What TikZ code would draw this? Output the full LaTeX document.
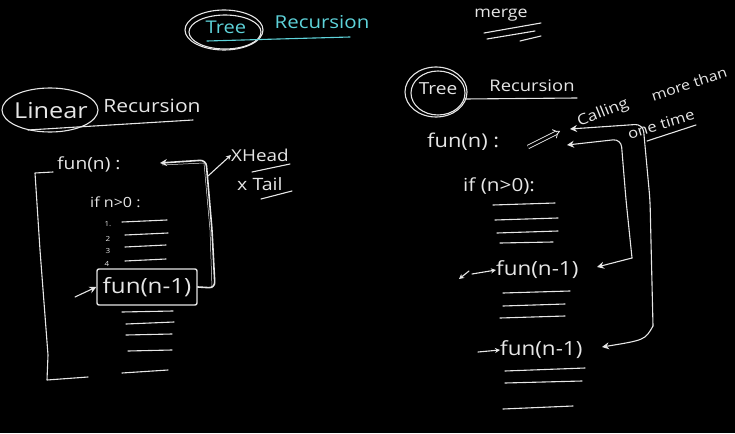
\documentclass[tikz,border=0pt]{standalone}
\usepackage{fontspec}
\setmainfont[FakeStretch=1.15]{Open Sans}
\usetikzlibrary{arrows.meta,shapes.geometric}
\definecolor{chalk}{HTML}{E6E6E6}
\definecolor{cyanchalk}{HTML}{5ED3DA}
\newcommand{\fs}[1]{\fontsize{#1}{#1}\selectfont}
\begin{document}
\begin{tikzpicture}[x=1pt,y=-1pt,
  chalkline/.style={draw=chalk,line width=1.1pt,line cap=round,line join=round},
  cyanline/.style={draw=cyanchalk,line width=1.1pt,line cap=round},
  txt/.style={text=chalk,inner sep=0pt,font=\fs{16}},
  ctxt/.style={text=cyanchalk,inner sep=0pt,font=\fs{17.5}},
  small/.style={text=chalk,inner sep=0pt,font=\fs{7}},
  tip/.style={-{Stealth[length=7pt,width=7pt]}},
  smalltip/.style={-{Stealth[length=5pt,width=5pt]}}
]
\fill[black] (0,0) rectangle (735,433);
\useasboundingbox (0,0) rectangle (735,433);

% ---------- top title ----------
\node[ctxt] (ttree) at (226,27) {Tree};
\node[ctxt,font=\fs{17.8}] (trec) at (322,22) {Recursion};
\draw[chalkline] (224,30) ellipse [x radius=39,y radius=20];
\draw[chalkline] (225,32) ellipse [x radius=36,y radius=17];
\draw[cyanline] (207,41) -- (350,37);
\node[txt,font=\fs{15.5}] (merge) at (501,15) {merge};
\draw[chalkline] (484,33) -- (541,23);
\draw[chalkline] (487,39) -- (535,31);
\draw[chalkline] (520,41) -- (541,36);

% ---------- left: linear recursion ----------
\node[txt,font=\fs{22}] (lin) at (51,111) {Linear};
\draw[chalkline] (50,110) ellipse [x radius=48,y radius=22];
\node[txt,font=\fs{18.3}] (lrec) at (152,106) {Recursion};
\draw[chalkline] (28,130) -- (193,120);

\node[txt,anchor=west,font=\fs{16.7}] (lfun) at (57,164) {fun(n) :};
\node[txt,anchor=west,font=\fs{14}] (lif) at (90,202) {if n>0 :};

\node[small] (n1) at (108,224) {1.};
\node[small] (n2) at (108,239) {2};
\node[small] (n3) at (108,251) {3};
\node[small] (n4) at (107,264) {4};
\draw[chalkline] (122,222) -- (167,220);
\draw[chalkline] (125,235) -- (168,233);
\draw[chalkline] (125,247) -- (166,245);
\draw[chalkline] (125,261) -- (166,259);

\node[txt,font=\fs{21},draw=chalk,line width=1.4pt,rounded corners=2pt,minimum width=100pt,minimum height=36pt] (lbox) at (147,287) {fun(n-1)};
\coordinate (lin0) at (75,297);
\draw[chalkline,tip] (lin0) -- (lbox.west);

\draw[chalkline] (122,312) -- (173,311);
\draw[chalkline] (126,324) -- (174,322);
\draw[chalkline] (126,335) -- (172,334);
\draw[chalkline] (128,351) -- (172,350);
\draw[chalkline] (122,373) -- (168,370);

% bracket
\draw[chalkline] (53,172) -- (35,173) -- (40,250) -- (48,355) -- (47,380) -- (88,377);

% return arrow
\draw[chalkline,line width=1.6pt,tip,rounded corners=6pt] (lbox.east) -- (215,288) -- (212,230) -- (206,160) -- (160,163);
\draw[chalkline,line width=0.5pt] (212,288) -- (210,230) -- (204,163) -- (162,165);
\node[txt,anchor=west,font=\fs{16.4}] (xhead) at (231,155) {XHead};
\node[txt,anchor=west,font=\fs{17}] (xtail) at (237,184) {x Tail};
\draw[chalkline,smalltip] (208,176) -- (xhead.west);
\draw[chalkline] (252,172) -- (290,164);
\draw[chalkline] (261,199) -- (292,191);

% ---------- right: tree recursion ----------
\node[txt,font=\fs{16.6}] (rtree) at (438,89) {Tree};
\draw[chalkline] (436,92) ellipse [x radius=31,y radius=25];
\draw[chalkline] (438,93) ellipse [x radius=27,y radius=22];
\node[txt,font=\fs{16}] (rrec) at (532,86) {Recursion};
\draw[chalkline] (465,99) -- (577,98);

\node[txt,anchor=west,font=\fs{19}] (rfun) at (427,142) {fun(n) :};
\draw[chalk,line width=0.9pt,double=black,double distance=2.5pt,-{Implies}] (528,147) -- (560,131);

\node[txt,rotate=22,font=\fs{15}] (calling) at (603,113) {Calling};
\node[txt,rotate=18,font=\fs{14}] (more) at (689,84) {more than};
\node[txt,rotate=17,font=\fs{14.5}] (onetime) at (661,124) {one time};
\draw[chalkline] (647,141) -- (696,125);

\node[txt,anchor=west,font=\fs{18}] (rif) at (463,186) {if (n>0):};
\draw[chalkline] (493,205) -- (555,203);
\draw[chalkline] (495,220) -- (558,218);
\draw[chalkline] (497,233) -- (558,231);
\draw[chalkline] (500,243) -- (553,242);

\node[txt,anchor=west,font=\fs{19.5}] (rf1) at (496,270) {fun(n-1)};
\draw[chalkline] (503,293) -- (570,291);
\draw[chalkline] (503,306) -- (565,304);
\draw[chalkline] (500,318) -- (565,316);

\node[txt,anchor=west,font=\fs{19.5}] (rf2) at (500,350) {fun(n-1)};
\draw[chalkline] (505,371) -- (585,368);
\draw[chalkline] (505,383) -- (582,381);
\draw[chalkline] (503,409) -- (573,406);

% entry arrows
\coordinate (e1) at (472,274);
\coordinate (e0) at (469,271);
\draw[chalkline,smalltip] (e1) -- (rf1.west);
\draw[chalkline,smalltip] (e0) -- (459,279);
\coordinate (e2) at (478,352);
\draw[chalkline,smalltip] (e2) -- (rf2.west);

% call connectors
\coordinate (ta) at (567,145);
\coordinate (tb) at (570,129);
\coordinate (a0) at (632,258);
\coordinate (b0) at (653,326);
\draw[chalkline,tip,rounded corners=8pt] (a0) -- (626,200) -- (621,139) -- (ta);
\draw[chalkline,tip] (a0) -- (597,267);
\draw[chalkline,tip,rounded corners=8pt] (b0) -- (650,200) -- (643,124) -- (tb);
\draw[chalkline,tip] (b0) .. controls (645,340) .. (602,347);
\end{tikzpicture}
\end{document}
